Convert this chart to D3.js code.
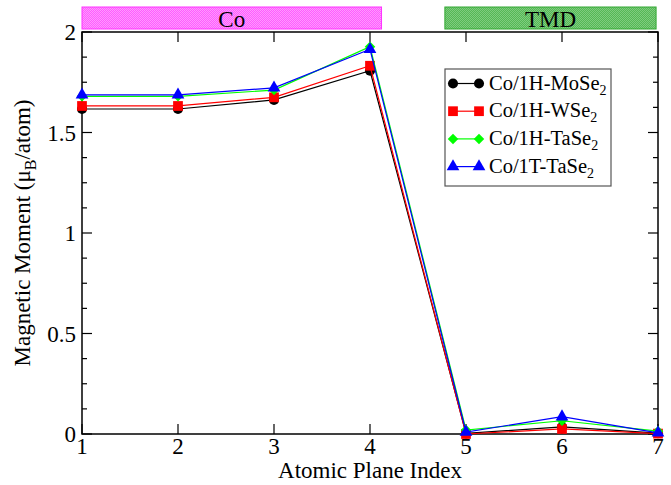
<!DOCTYPE html>
<html>
<head>
<meta charset="utf-8">
<script src="https://cdn.jsdelivr.net/npm/d3@7"></script>
<style>
body { margin: 0; background: #fff; }
svg { display: block; }
</style>
</head>
<body>
<svg id="chart" width="671" height="485"></svg>
<script>
var planes = [1, 2, 3, 4, 5, 6, 7];
var moSe2 = [1.617, 1.617, 1.662, 1.807, 0.003, 0.035, 0.004];
var wSe2 = [1.632, 1.632, 1.675, 1.832, 0.0, 0.025, 0.002];
var taSe2_1H = [1.680, 1.680, 1.711, 1.927, 0.020, 0.066, 0.014];
var taSe2_1T = [1.687, 1.687, 1.722, 1.914, 0.010, 0.086, 0.006];
var seriesNames = ["Co/1H-MoSe", "Co/1H-WSe", "Co/1H-TaSe", "Co/1T-TaSe"];
var xTicks = [1, 2, 3, 4, 5, 6, 7];
var yTicks = [0, 0.5, 1, 1.5, 2];
var bands = [{label: "Co", from: 1, to: 4.12}, {label: "TMD", from: 4.78, to: 6.98}];

var svg = d3.select("#chart");
var pLeft = 82, pRight = 658, pTop = 32, pBottom = 434;
var serif = "Liberation Serif, DejaVu Serif";

var x = d3.scaleLinear().domain([1, 7]).range([pLeft, pRight]);
var y = d3.scaleLinear().domain([0, 2]).range([pBottom, pTop]);

// dithered fills for the top bands
var defs = svg.append("defs");
function dither(id, c1, c2) {
  var p = defs.append("pattern").attr("id", id).attr("width", 2).attr("height", 2)
    .attr("patternUnits", "userSpaceOnUse");
  p.append("rect").attr("width", 2).attr("height", 2).attr("fill", c1);
  p.append("rect").attr("width", 1).attr("height", 1).attr("fill", c2);
  p.append("rect").attr("x", 1).attr("y", 1).attr("width", 1).attr("height", 1).attr("fill", c2);
}
dither("pinkfill", "#ff5cff", "#ff99ff");
dither("greenfill", "#55b855", "#7fcc7f");

var bandStyle = [{fill: "url(#pinkfill)", stroke: "#ff33ff"}, {fill: "url(#greenfill)", stroke: "#33a833"}];
bands.forEach(function(b, i) {
  svg.append("rect")
    .attr("x", x(b.from)).attr("y", 7)
    .attr("width", x(b.to) - x(b.from)).attr("height", 22)
    .attr("fill", bandStyle[i].fill).attr("stroke", bandStyle[i].stroke).attr("stroke-width", 1);
  svg.append("text")
    .attr("x", (x(b.from) + x(b.to)) / 2).attr("y", 27)
    .attr("text-anchor", "middle").attr("font-size", 23).style("font-family", serif)
    .text(b.label);
});

// frame
svg.append("rect")
  .attr("x", pLeft).attr("y", pTop).attr("width", pRight - pLeft).attr("height", pBottom - pTop)
  .attr("fill", "none").attr("stroke", "#000").attr("stroke-width", 1.5);

// ticks
var ticks = svg.append("g").attr("stroke", "#000").attr("stroke-width", 1.2);
xTicks.forEach(function(t) {
  ticks.append("line").attr("x1", x(t)).attr("x2", x(t)).attr("y1", pBottom).attr("y2", pBottom - 10);
  ticks.append("line").attr("x1", x(t)).attr("x2", x(t)).attr("y1", pTop).attr("y2", pTop + 10);
});
d3.range(0, 2.001, 0.125).forEach(function(t) {
  var major = Math.abs(t * 2 - Math.round(t * 2)) < 1e-6;
  var len = major ? 10 : 5;
  ticks.append("line").attr("x1", pLeft).attr("x2", pLeft + len).attr("y1", y(t)).attr("y2", y(t));
  ticks.append("line").attr("x1", pRight).attr("x2", pRight - len).attr("y1", y(t)).attr("y2", y(t));
});

// tick labels
svg.selectAll(".xl").data(xTicks).enter().append("text")
  .attr("x", function(d) { return x(d); }).attr("y", pBottom + 20)
  .attr("text-anchor", "middle").attr("font-size", 23).style("font-family", serif)
  .text(function(d) { return d; });
svg.selectAll(".yl").data(yTicks).enter().append("text")
  .attr("x", pLeft - 6).attr("y", function(d) { return y(d) + 8; })
  .attr("text-anchor", "end").attr("font-size", 23).style("font-family", serif)
  .text(function(d) { return d; });

// axis titles
svg.append("text").attr("x", (pLeft + pRight) / 2).attr("y", 478)
  .attr("text-anchor", "middle").attr("font-size", 23).style("font-family", serif)
  .text("Atomic Plane Index");
var yt = svg.append("text").attr("transform", "translate(30," + ((pTop + pBottom) / 2) + ") rotate(-90)")
  .attr("text-anchor", "middle").attr("font-size", 23).style("font-family", serif);
yt.append("tspan").text("Magnetic Moment (\u03bc");
yt.append("tspan").attr("font-size", 16).attr("dy", 6).text("B");
yt.append("tspan").attr("dy", -6).text("/atom)");

// series
var series = [
  {vals: moSe2, color: "#000000", shape: "circle"},
  {vals: wSe2, color: "#ff0000", shape: "square"},
  {vals: taSe2_1H, color: "#00ff00", shape: "diamond"},
  {vals: taSe2_1T, color: "#0000ff", shape: "triangle"}
];
var shapeSize = {circle: 80, square: 95, diamond: 70, triangle: 70};
var symbols = {circle: d3.symbolCircle, square: d3.symbolSquare, diamond: d3.symbolDiamond2, triangle: d3.symbolTriangle};
var line = d3.line().x(function(d, i) { return x(planes[i]); }).y(function(d) { return y(d); });

series.forEach(function(s) {
  svg.append("path").datum(s.vals).attr("d", line)
    .attr("fill", "none").attr("stroke", s.color).attr("stroke-width", 1.2);
  svg.selectAll(null).data(s.vals).enter().append("path")
    .attr("d", d3.symbol().type(symbols[s.shape]).size(shapeSize[s.shape]))
    .attr("transform", function(d, i) { return "translate(" + x(planes[i]) + "," + y(d) + ")"; })
    .attr("fill", s.color);
});

// legend
var lg = svg.append("g");
lg.append("rect").attr("x", 445).attr("y", 69).attr("width", 166).attr("height", 117)
  .attr("fill", "#fff").attr("stroke", "#555").attr("stroke-width", 1.2);
series.forEach(function(s, i) {
  var ly = 83.5 + i * 27.7;
  lg.append("line").attr("x1", 453).attr("x2", 479).attr("y1", ly).attr("y2", ly)
    .attr("stroke", s.color).attr("stroke-width", 1.2);
  [453, 479].forEach(function(px) {
    lg.append("path").attr("d", d3.symbol().type(symbols[s.shape]).size(shapeSize[s.shape]))
      .attr("transform", "translate(" + px + "," + ly + ")").attr("fill", s.color);
  });
  var t = lg.append("text").attr("x", 489).attr("y", ly + 6).attr("font-size", 20.5).style("font-family", serif);
  t.append("tspan").text(seriesNames[i]);
  t.append("tspan").attr("font-size", 14).attr("dy", 5).text("2");
});
</script>
</body>
</html>
